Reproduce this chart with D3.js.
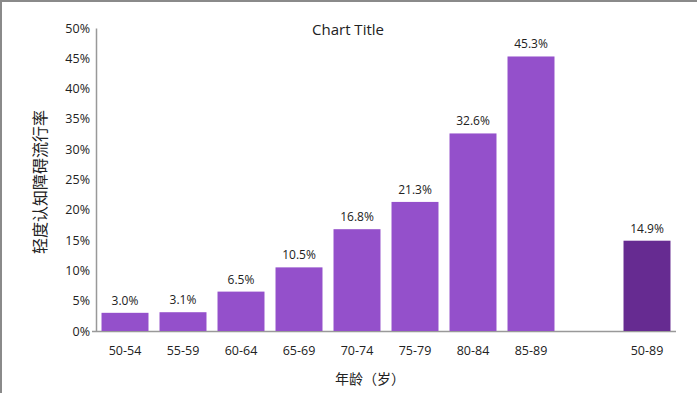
<!DOCTYPE html>
<html><head><meta charset="utf-8">
<script src="https://cdn.jsdelivr.net/npm/d3@7"></script>
<style>
html,body{margin:0;padding:0;background:#fff;}
svg{display:block;}
text{font-family:"Open Sans","Noto Sans CJK SC",sans-serif;fill:#222;}
</style></head>
<body><svg id="c" width="697" height="393"></svg>
<script>
const categories = ["50-54","55-59","60-64","65-69","70-74","75-79","80-84","85-89","","50-89"];
const values = [3.0,3.1,6.5,10.5,16.8,21.3,32.6,45.3,null,14.9];
const labels = ["3.0%","3.1%","6.5%","10.5%","16.8%","21.3%","32.6%","45.3%","","14.9%"];
const yTicks = [0,5,10,15,20,25,30,35,40,45,50];
const colors = ["#9450CB","#9450CB","#9450CB","#9450CB","#9450CB","#9450CB","#9450CB","#9450CB","#9450CB","#662B91"];
const title = "Chart Title";
const xTitle = "年龄（岁）";
const yTitle = "轻度认知障碍流行率";

const svg = d3.select("#c");
// frame border top and left
svg.append("line").attr("x1",0).attr("y1",1).attr("x2",697).attr("y2",1).attr("stroke","#8a8a8a").attr("stroke-width",2);
svg.append("line").attr("x1",1).attr("y1",0).attr("x2",1).attr("y2",393).attr("stroke","#8a8a8a").attr("stroke-width",2);

const x0 = 96, x1 = 676, yTop = 28, yBot = 331;
const x = d3.scaleBand().domain(d3.range(categories.length)).range([x0,x1]).paddingInner(0.19).paddingOuter(0.095);
const y = d3.scaleLinear().domain([0,50]).range([yBot,yTop]);

// y axis
const yAxis = d3.axisLeft(y).tickValues(yTicks).tickFormat(d=>d+"%").tickSize(0).tickPadding(6);
const gy = svg.append("g").attr("transform",`translate(${x0},0)`).call(yAxis);
gy.select(".domain").attr("stroke","#999").attr("stroke-width",1.5);
gy.selectAll("text").style("font-size","12.5px").attr("fill","#333");

// x axis baseline
svg.append("line").attr("x1",x0-4).attr("x2",x1).attr("y1",yBot+0.5).attr("y2",yBot+0.5).attr("stroke","#999").attr("stroke-width",1.5);

// bars
const data = categories.map((c,i)=>({i,c,v:values[i],l:labels[i]})).filter(d=>d.v!=null);
svg.selectAll("rect.bar").data(data).enter().append("rect")
  .attr("x",d=>x(d.i)).attr("width",x.bandwidth())
  .attr("y",d=>y(d.v)).attr("height",d=>y(0)-y(d.v))
  .attr("fill",d=>colors[d.i]);

// value labels
svg.selectAll("text.val").data(data).enter().append("text")
  .attr("x",d=>x(d.i)+x.bandwidth()/2).attr("y",d=>y(d.v)-8)
  .attr("text-anchor","middle").style("font-size","12px").attr("fill","#333")
  .text(d=>d.l);

// x labels
svg.selectAll("text.xl").data(categories.map((c,i)=>({c,i}))).enter().append("text")
  .attr("x",d=>x(d.i)+x.bandwidth()/2).attr("y",yBot+24)
  .attr("text-anchor","middle").style("font-size","12.5px").attr("fill","#333")
  .text(d=>d.c);

// titles
svg.append("text").attr("x",348).attr("y",35).attr("text-anchor","middle").style("font-size","15px").attr("fill","#111").text(title);
svg.append("text").attr("x",370).attr("y",384).attr("text-anchor","middle").style("font-size","14px").attr("fill","#333").text(xTitle);
svg.append("text").attr("transform","translate(46,182) rotate(-90)").attr("text-anchor","middle").style("font-size","16px").attr("fill","#333").text(yTitle);
</script></body></html>
